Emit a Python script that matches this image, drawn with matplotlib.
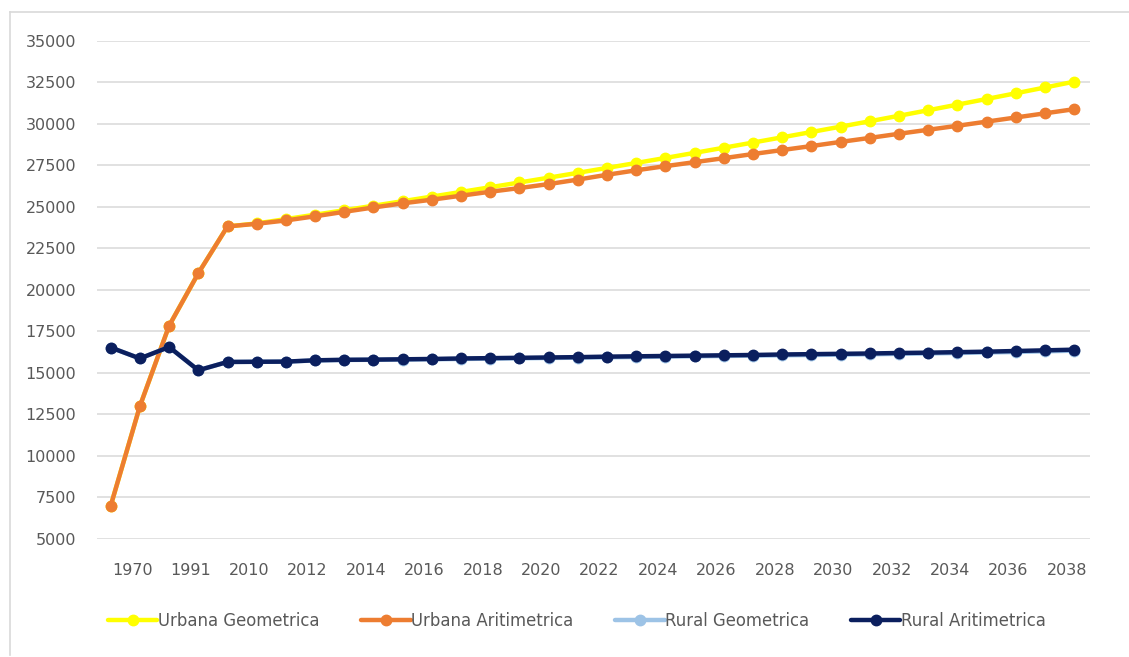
import matplotlib
matplotlib.use("Agg")
import matplotlib.pyplot as plt
from matplotlib.lines import Line2D
from matplotlib.transforms import ScaledTranslation

# Categorias (anos) e series de populacao
years = [1964, 1970, 1985, 1991, 2005, 2010, 2011, 2012, 2013, 2014, 2015, 2016,
         2017, 2018, 2019, 2020, 2021, 2022, 2023, 2024, 2025, 2026, 2027, 2028,
         2029, 2030, 2031, 2032, 2033, 2034, 2035, 2036, 2037, 2038]

urbana_geom = [7000, 13000, 17840, 21000, 23820, 24000, 24262, 24527, 24795, 25066,
               25340, 25617, 25897, 26180, 26466, 26755, 27048, 27343, 27642, 27944,
               28250, 28559, 28871, 29186, 29505, 29828, 30154, 30483, 30816, 31153,
               31494, 31838, 32186, 32537]

urbana_arit = [7000, 13000, 17840, 21000, 23820, 23980, 24180, 24430, 24700, 24960,
               25210, 25430, 25670, 25910, 26130, 26370, 26640, 26930, 27200, 27450,
               27690, 27930, 28180, 28420, 28660, 28910, 29150, 29400, 29640, 29880,
               30130, 30380, 30630, 30880]

rural_geom = [16530, 15870, 16560, 15160, 15660, 15670, 15680, 15750, 15780, 15790,
              15800, 15820, 15840, 15860, 15880, 15900, 15920, 15940, 15960, 15980,
              16000, 16020, 16040, 16060, 16080, 16100, 16120, 16150, 16170, 16200,
              16230, 16260, 16300, 16340]

rural_arit = [16530, 15870, 16560, 15160, 15660, 15670, 15680, 15760, 15790, 15800,
              15820, 15840, 15870, 15890, 15910, 15930, 15950, 15980, 16000, 16020,
              16040, 16060, 16080, 16110, 16130, 16150, 16170, 16200, 16220, 16250,
              16280, 16320, 16360, 16400]

series = [
    ("Urbana Geometrica", urbana_geom, "#FFFF00"),
    ("Urbana Aritimetrica", urbana_arit, "#ED7D31"),
    ("Rural Geometrica", rural_geom, "#9DC3E6"),
    ("Rural Aritimetrica", rural_arit, "#0B1F5E"),
]

text_color = "#595959"
grid_color = "#D9D9D9"

fig = plt.figure(figsize=(11.29, 6.57), dpi=100)
ax = fig.add_axes([0.0859, 0.1796, 0.8796, 0.7584])

x = list(range(len(years)))
for i, (name, vals, color) in enumerate(series):
    ax.plot(x, vals, color=color, lw=3.2, marker="o", markersize=7.5,
            label=name, zorder=3 + i, solid_capstyle="round")

ax.set_xlim(-0.47, len(years) - 0.46)
ax.set_ylim(5000, 35000)
ax.set_yticks(range(5000, 35001, 2500))
ax.grid(axis="y", color=grid_color, lw=1.1)
ax.set_axisbelow(True)
for s in ax.spines.values():
    s.set_visible(False)

# so um rotulo a cada duas categorias
ax.set_xticks(x[1::2])
ax.set_xticklabels([str(y) for y in years[1::2]])
ax.tick_params(axis="x", length=0, pad=17, labelsize=11.5, labelcolor=text_color)
ax.tick_params(axis="y", length=0, pad=15, labelsize=11.5, labelcolor=text_color)
shift = ScaledTranslation(-7.5 / 100, 0, fig.dpi_scale_trans)
for lbl in ax.get_xticklabels():
    lbl.set_transform(lbl.get_transform() + shift)

leg = fig.legend(loc="center", bbox_to_anchor=(0.511, 0.055), ncol=4,
                 frameon=False, fontsize=11.9, handlelength=3.0,
                 handletextpad=0.05, columnspacing=2.5, numpoints=1)
for t in leg.get_texts():
    t.set_color(text_color)

# borda da area do grafico
fig.add_artist(Line2D([0.009, 0.009], [0.003, 0.982], color=grid_color, lw=1.2))
fig.add_artist(Line2D([0.009, 1.0], [0.982, 0.982], color=grid_color, lw=1.2))

fig.savefig("out.png", dpi=100)
